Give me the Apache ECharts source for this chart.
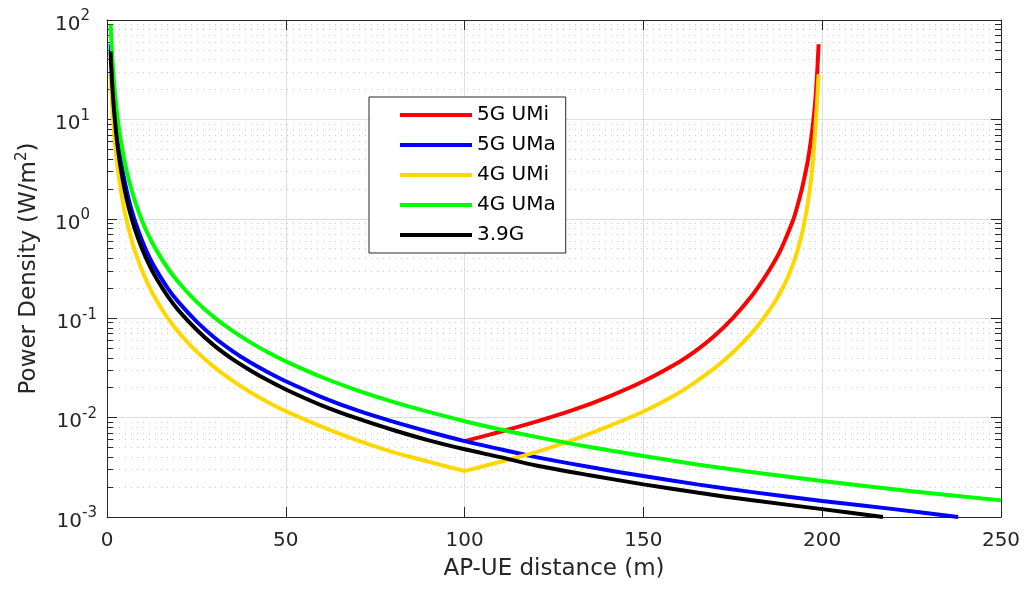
<!DOCTYPE html>
<html>
<head>
<meta charset="utf-8">
<script src="https://cdn.jsdelivr.net/npm/echarts@6/dist/echarts.min.js"></script>
<style>
html, body { margin: 0; padding: 0; background: #fff; }
#main { width: 1024px; height: 594px; }
</style>
</head>
<body>
<div id="main"></div>
<script>
// distances (m) for the falling part, shared by the four curves
var distNear = [1, 1.25, 1.5, 1.75, 2, 2.5, 3, 3.5, 4, 5, 6, 7, 8, 10, 12, 14, 17, 20, 25, 30, 35, 40, 45, 50, 60, 70, 80, 90, 100];

var green4gUma = [90, 59, 41, 30, 23, 14.7, 10.2, 7.5, 5.75, 3.68, 2.56, 1.88, 1.44, 0.92, 0.64, 0.47, 0.318, 0.23, 0.147, 0.102, 0.075, 0.0575, 0.0454, 0.0368, 0.0256, 0.0188, 0.0144, 0.0114, 0.0092];
var blue5gUma = [57, 37, 25.8, 18.9, 14.5, 9.3, 6.4, 4.7, 3.6, 2.32, 1.61, 1.18, 0.91, 0.58, 0.40, 0.296, 0.2, 0.145, 0.093, 0.064, 0.047, 0.036, 0.0286, 0.0232, 0.0161, 0.0118, 0.0091, 0.0072, 0.0058];
var black39g = [48, 30.7, 21.3, 15.7, 12, 7.7, 5.3, 3.9, 3.0, 1.92, 1.33, 0.98, 0.75, 0.48, 0.333, 0.245, 0.166, 0.12, 0.077, 0.053, 0.039, 0.030, 0.0237, 0.0192, 0.0133, 0.0098, 0.0075, 0.0059, 0.0048];

// 4G UMi has its own points around the minimum at 100 m
var yellowNearDist = [1, 1.25, 1.5, 1.75, 2, 2.5, 3, 3.5, 4, 5, 6, 7, 8, 10, 12, 14, 17, 20, 25, 30, 35, 40, 45, 50, 60, 70, 80, 90, 99, 100, 101];
var yellow4gUmi = [28, 18.6, 12.9, 9.5, 7.25, 4.64, 3.22, 2.37, 1.81, 1.16, 0.81, 0.59, 0.453, 0.29, 0.201, 0.148, 0.1, 0.0725, 0.0464, 0.0322, 0.0237, 0.0181, 0.0143, 0.0116, 0.0081, 0.0059, 0.0045, 0.0036, 0.00296, 0.0029, 0.00296];

// tails after 100 m
var greenFarDist = [110, 120, 135, 150, 165, 180, 200, 225, 250];
var greenFar = [0.0076, 0.0064, 0.00505, 0.0041, 0.00338, 0.00284, 0.0023, 0.00182, 0.00147];
var blueFarDist = [110, 120, 135, 150, 165, 180, 200, 220, 238];
var blueFar = [0.0048, 0.0040, 0.00318, 0.00258, 0.00213, 0.00179, 0.00145, 0.0012, 0.001];
var blackFarDist = [110, 120, 135, 150, 165, 180, 200, 217];
var blackFar = [0.0040, 0.0033, 0.00263, 0.00213, 0.00176, 0.00148, 0.0012, 0.001];

// rising branch towards the second AP
var riseDist = [110, 120, 130, 140, 150, 160, 165, 170, 175, 180, 183, 186, 188, 190, 192, 193, 194, 195, 196, 197, 197.5, 198, 198.5, 199];
var yellowRise = [0.0036, 0.0045, 0.0059, 0.0081, 0.0115, 0.0178, 0.0234, 0.0316, 0.0452, 0.0692, 0.0933, 0.132, 0.174, 0.24, 0.363, 0.468, 0.631, 0.912, 1.45, 2.69, 4.17, 7.24, 13.5, 28.6];
var redStart = [100, 0.0058];
var redRise = [0.0072, 0.0091, 0.0118, 0.0161, 0.0232, 0.0363, 0.0479, 0.0668, 0.1, 0.162, 0.229, 0.339, 0.457, 0.661, 1.0, 1.32, 1.8, 2.57, 3.89, 6.76, 9.55, 14.5, 25.7, 57];

var names = ['5G UMi', '5G UMa', '4G UMi', '4G UMa', '3.9G'];
var colors = ['#ff0000', '#0000ff', '#ffd700', '#00ff00', '#000000'];

function pairs(xs, ys) {
    var out = [];
    for (var i = 0; i < xs.length; i++) {
        out.push([xs[i], ys[i]]);
    }
    return out;
}

var minorVals = [];
for (var p = -3; p < 2; p++) {
    for (var k = 2; k <= 9; k++) {
        minorVals.push(+(k * Math.pow(10, p)).toPrecision(3));
    }
}

var font = 'DejaVu Sans';
var ink = '#262626';

var dom = document.getElementById('main');
var myChart = echarts.init(dom);

var option = {
    animation: false,
    backgroundColor: '#fff',
    grid: { left: 107, right: 23, top: 20, bottom: 77 },
    legend: {
        orient: 'vertical',
        left: 369,
        top: 97,
        data: names,
        icon: 'rect',
        itemWidth: 72,
        itemHeight: 4,
        itemGap: 10,
        padding: [8, 10, 8, 31],
        borderColor: ink,
        borderWidth: 1,
        backgroundColor: '#fff',
        textStyle: { fontFamily: font, fontSize: 20, color: '#000', lineHeight: 20 }
    },
    xAxis: [{
        type: 'value',
        min: 0,
        max: 250,
        interval: 50,
        name: 'AP-UE distance (m)',
        nameLocation: 'middle',
        nameGap: 41,
        nameTextStyle: { fontFamily: font, fontSize: 23, color: ink },
        axisLine: { lineStyle: { color: ink, width: 1 } },
        axisTick: { inside: true, length: 10, lineStyle: { color: ink } },
        axisLabel: { fontFamily: font, fontSize: 20, color: ink, margin: 14 },
        splitLine: { show: true, lineStyle: { color: '#dedede', width: 1 } }
    }, {
        type: 'value',
        position: 'top',
        min: 0,
        max: 250,
        interval: 50,
        axisLine: { lineStyle: { color: ink, width: 1 } },
        axisTick: { inside: true, length: 10, lineStyle: { color: ink } },
        axisLabel: { show: false },
        splitLine: { show: false }
    }],
    yAxis: [{
        type: 'log',
        logBase: 10,
        min: 0.001,
        max: 100,
        splitNumber: 5,
        name: '{a|Power Density (W/m}{s|2}{a|)}',
        nameLocation: 'middle',
        nameGap: 63,
        nameTextStyle: {
            rich: {
                a: { fontFamily: font, fontSize: 23, color: ink },
                s: { fontFamily: font, fontSize: 15, color: ink, padding: [0, 0, 14, 0] }
            }
        },
        axisLine: { lineStyle: { color: ink, width: 1 } },
        axisTick: { inside: true, length: 10, lineStyle: { color: ink } },
        axisLabel: {
            margin: 10,
            padding: [9, 0, 0, 0],
            formatter: function (v) {
                var e = Math.round(Math.log(v) / Math.LN10);
                return '{b|10}{' + (e < 0 ? 'e' : 'ep') + '|' + e + '}';
            },
            rich: {
                b: { fontFamily: font, fontSize: 20, color: ink, lineHeight: 20 },
                e: { fontFamily: font, fontSize: 15, color: ink, padding: [0, 0, 16, 0] },
                ep: { fontFamily: font, fontSize: 15, color: ink, padding: [0, 7, 16, 0] }
            }
        },
        splitLine: { show: true, lineStyle: { color: '#dedede', width: 1 } }
    }, {
        type: 'log',
        logBase: 10,
        min: 0.001,
        max: 100,
        position: 'left',
        axisLine: { show: false },
        axisTick: { inside: true, length: 6, customValues: minorVals, lineStyle: { color: ink } },
        axisLabel: { show: false },
        splitLine: { show: true, lineStyle: { color: '#c8c8c8', width: 1, type: [1, 5] } }
    }, {
        type: 'log',
        logBase: 10,
        min: 0.001,
        max: 100,
        splitNumber: 5,
        position: 'right',
        axisLine: { show: true, lineStyle: { color: ink, width: 1 } },
        axisTick: { inside: true, length: 10, lineStyle: { color: ink } },
        axisLabel: { show: false },
        splitLine: { show: false }
    }, {
        type: 'log',
        logBase: 10,
        min: 0.001,
        max: 100,
        position: 'right',
        axisLine: { show: false },
        axisTick: { inside: true, length: 6, customValues: minorVals, lineStyle: { color: ink } },
        axisLabel: { show: false },
        splitLine: { show: false }
    }],
    series: [{
        name: names[0],
        type: 'line',
        data: [redStart].concat(pairs(riseDist, redRise))
    }, {
        name: names[1],
        type: 'line',
        data: pairs(distNear.concat(blueFarDist), blue5gUma.concat(blueFar))
    }, {
        name: names[2],
        type: 'line',
        data: pairs(yellowNearDist.concat(riseDist), yellow4gUmi.concat(yellowRise))
    }, {
        name: names[3],
        type: 'line',
        data: pairs(distNear.concat(greenFarDist), green4gUma.concat(greenFar))
    }, {
        name: names[4],
        type: 'line',
        data: pairs(distNear.concat(blackFarDist), black39g.concat(blackFar))
    }]
};

for (var i = 0; i < option.series.length; i++) {
    var s = option.series[i];
    s.showSymbol = false;
    s.smooth = 0.3;
    s.color = colors[i];
    s.lineStyle = { width: 4, color: colors[i] };
    s.z = 3 + i;
}

myChart.setOption(option);
</script>
</body>
</html>
